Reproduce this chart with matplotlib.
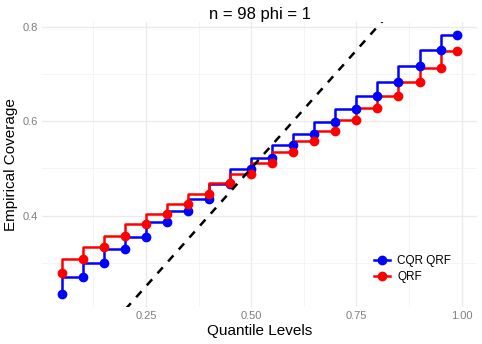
import matplotlib
matplotlib.use("Agg")
import matplotlib.pyplot as plt
import numpy as np

plt.rcParams['font.family'] = ['Liberation Sans', 'DejaVu Sans']

quantiles = [0.05, 0.10, 0.15, 0.20, 0.25, 0.30, 0.35, 0.40, 0.45, 0.50,
             0.55, 0.60, 0.65, 0.70, 0.75, 0.80, 0.85, 0.90, 0.95, 0.99]
cqr_qrf = [0.234, 0.270, 0.300, 0.330, 0.355, 0.386, 0.410, 0.436, 0.466, 0.498,
           0.522, 0.550, 0.573, 0.599, 0.626, 0.653, 0.683, 0.717, 0.751, 0.783]
qrf = [0.279, 0.308, 0.333, 0.356, 0.381, 0.404, 0.425, 0.445, 0.468, 0.487,
       0.512, 0.534, 0.557, 0.579, 0.603, 0.627, 0.654, 0.683, 0.713, 0.748]

fig = plt.figure(figsize=(4.82, 3.44), dpi=100)
ax = fig.add_axes([0.087, 0.108, 0.903, 0.828])

for vals, col, lab in [(cqr_qrf, "#0000FF", "CQR QRF"), (qrf, "#FF0000", "QRF")]:
    ax.plot(quantiles, vals, drawstyle="steps-pre", color=col, lw=1.8, zorder=3)
    ax.plot(quantiles, vals, "o", color=col, ms=6, zorder=4)
    ax.plot([], [], "-o", color=col, lw=1.8, ms=6, label=lab)

xs = np.array([0.0, 1.1])
ax.plot(xs, xs, ls=(0, (3.2, 3.2)), color="black", lw=1.8, zorder=5)

ax.set_xlim(0.003, 1.037)
ax.set_ylim(0.2065, 0.81)
ax.set_xticks([0.25, 0.5, 0.75, 1.0])
ax.set_xticklabels(["0.25", "0.50", "0.75", "1.00"])
ax.set_yticks([0.4, 0.6, 0.8])
ax.set_yticklabels(["0.4", "0.6", "0.8"])
ax.set_xticks([0.125, 0.375, 0.625, 0.875], minor=True)
ax.set_yticks([0.3, 0.5, 0.7], minor=True)
ax.grid(True, which="major", color="#EBEBEB", lw=1.0)
ax.grid(True, which="minor", color="#F3F3F3", lw=0.6)
ax.set_axisbelow(True)
for s in ax.spines.values():
    s.set_visible(False)
ax.tick_params(which="both", length=0, labelsize=8, colors="#7F7F7F", pad=3)
ax.set_xlabel("Quantile Levels", fontsize=11, labelpad=2)
ax.set_ylabel("Empirical Coverage", fontsize=11, labelpad=3)
ax.set_title("n = 98 phi = 1", fontsize=12, pad=1.5)

leg = ax.legend(loc="lower right", bbox_to_anchor=(0.965, 0.045), frameon=False,
                fontsize=8.5, handlelength=1.4, handletextpad=0.6, labelspacing=0.35)

fig.savefig("out.png", dpi=100)
